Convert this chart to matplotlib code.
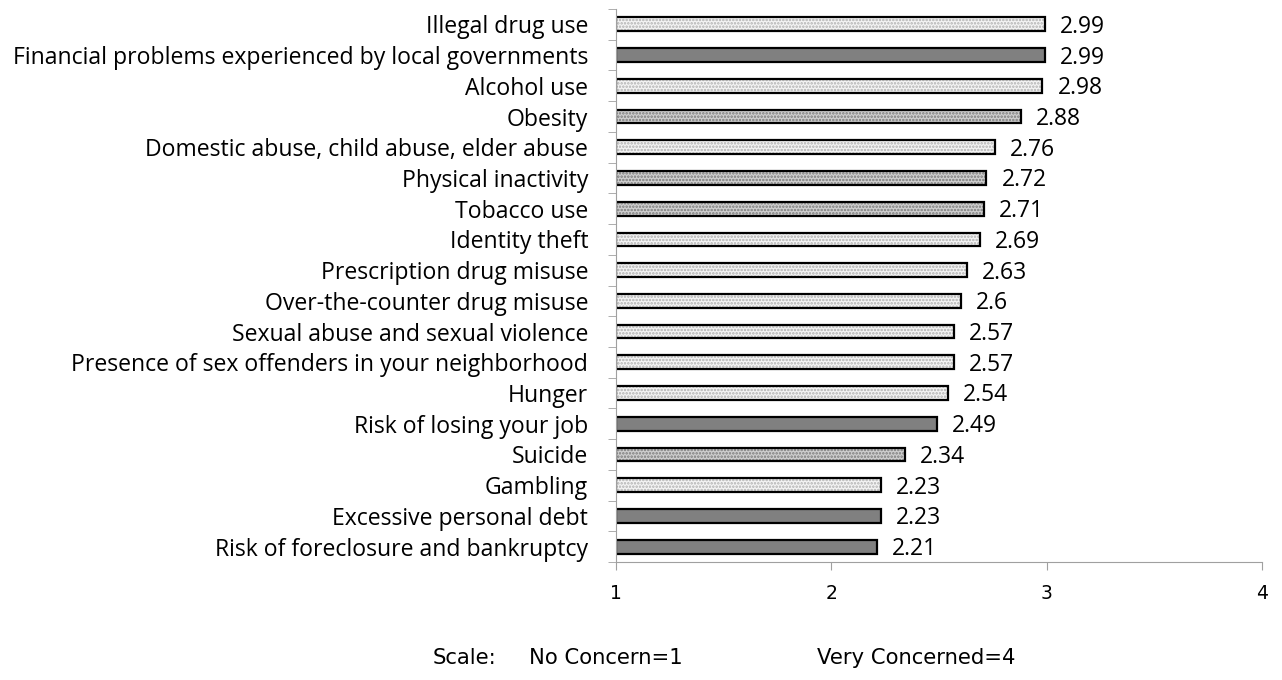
import matplotlib.pyplot as plt
import matplotlib as mpl

categories = [
    "Illegal drug use",
    "Financial problems experienced by local governments",
    "Alcohol use",
    "Obesity",
    "Domestic abuse, child abuse, elder abuse",
    "Physical inactivity",
    "Tobacco use",
    "Identity theft",
    "Prescription drug misuse",
    "Over-the-counter drug misuse",
    "Sexual abuse and sexual violence",
    "Presence of sex offenders in your neighborhood",
    "Hunger",
    "Risk of losing your job",
    "Suicide",
    "Gambling",
    "Excessive personal debt",
    "Risk of foreclosure and bankruptcy",
]
values = [2.99, 2.99, 2.98, 2.88, 2.76, 2.72, 2.71, 2.69, 2.63, 2.6,
          2.57, 2.57, 2.54, 2.49, 2.34, 2.23, 2.23, 2.21]
value_labels = ["2.99", "2.99", "2.98", "2.88", "2.76", "2.72", "2.71", "2.69", "2.63", "2.6",
                "2.57", "2.57", "2.54", "2.49", "2.34", "2.23", "2.23", "2.21"]
# group: light dots, dense dots, solid
groups = ["light", "solid", "light", "dense", "light", "dense", "dense", "light", "light", "light",
          "light", "light", "light", "solid", "dense", "light", "solid", "solid"]
x_ticks = [1, 2, 3, 4]

mpl.rcParams["hatch.linewidth"] = 1.2

fig = plt.figure(figsize=(12.82, 6.8), dpi=100)
ax = fig.add_axes([616 / 1282, 1 - 562 / 680, (1262 - 616) / 1282, 553 / 680])

n = len(categories)
ypos = list(range(n))[::-1]
styles = {
    "light": dict(facecolor="#f4f4f4", hatch=".....", hatchcolor="#b0b0b0"),
    "dense": dict(facecolor="#cfcfcf", hatch=".....", hatchcolor="#7a7a7a"),
    "solid": dict(facecolor="#808080", hatch=None, hatchcolor="#808080"),
}
bh = 0.45
for y, v, g, lab in zip(ypos, values, groups, value_labels):
    st = styles[g]
    # fill with hatch (hatch follows edgecolor), then black outline on top
    ax.barh(y, v - 1, left=1, height=bh, facecolor=st["facecolor"],
            edgecolor=st["hatchcolor"], linewidth=0, hatch=st["hatch"])
    ax.barh(y, v - 1, left=1, height=bh, fill=False, edgecolor="black", linewidth=1.6)
    ax.text(v + 0.07, y - 0.08, lab, va="center", ha="left", fontsize=16.5,
            family="Open Sans")

ax.set_xlim(1, 4)
ax.set_ylim(-0.5, n - 0.5)
ax.set_xticks(x_ticks)
ax.set_xticklabels([str(t) for t in x_ticks], fontsize=13.5, family="DejaVu Sans")
ax.tick_params(axis="x", direction="out", length=6, color="#a0a0a0", pad=10)
ax.set_yticks(ypos)
ax.set_yticklabels(categories, fontsize=16.6, family="Open Sans")
ax.set_yticks([i + 0.5 for i in range(-1, n)], minor=True)
ax.tick_params(axis="y", which="major", length=0, pad=20)
ax.tick_params(axis="y", which="minor", direction="out", length=6, color="#a0a0a0")
for s in ["top", "right"]:
    ax.spines[s].set_visible(False)
ax.spines["left"].set_color("#a0a0a0")
ax.spines["bottom"].set_color("#a0a0a0")

fig.text(433 / 1282, 1 - 658 / 680, "Scale:", fontsize=15.2, family="DejaVu Sans", va="center")
fig.text(529 / 1282, 1 - 658 / 680, "No Concern=1", fontsize=15.2, family="DejaVu Sans", va="center")
fig.text(817 / 1282, 1 - 658 / 680, "Very Concerned=4", fontsize=15.2, family="DejaVu Sans", va="center")

fig.savefig("out.png", dpi=100)
